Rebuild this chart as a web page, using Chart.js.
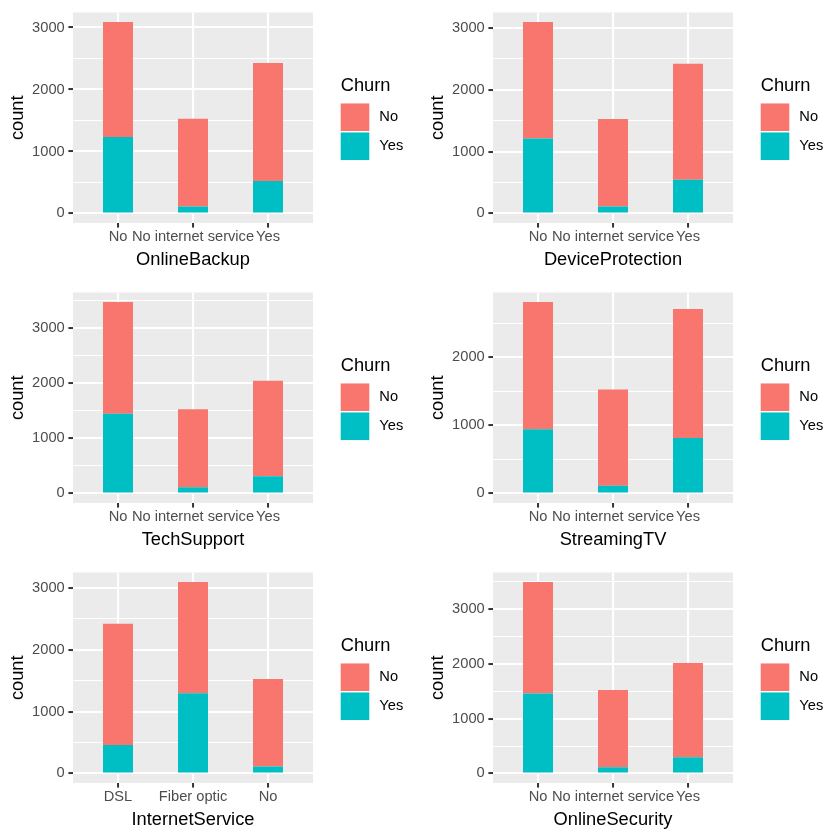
<!DOCTYPE html>
<html>
<head>
<meta charset="utf-8">
<script src="https://cdn.jsdelivr.net/npm/chart.js@4.4.1/dist/chart.umd.min.js"></script>
<style>
  html, body { margin: 0; padding: 0; background: #fff; }
  #grid { position: relative; width: 840px; height: 840px; }
  #grid canvas { position: absolute; }
</style>
</head>
<body>
<div id="grid"></div>
<script>
// category levels
var serviceLevels = ["No", "No internet service", "Yes"];
var internetLevels = ["DSL", "Fiber optic", "No"];

// counts per level, split by Churn (No / Yes)
var onlineBackupNo = [1855, 1413, 1906];
var onlineBackupYes = [1233, 113, 523];
var deviceProtectionNo = [1884, 1413, 1877];
var deviceProtectionYes = [1211, 113, 545];
var techSupportNo = [2027, 1413, 1734];
var techSupportYes = [1446, 113, 310];
var streamingTVNo = [1868, 1413, 1893];
var streamingTVYes = [942, 113, 814];
var internetServiceNo = [1962, 1799, 1413];
var internetServiceYes = [459, 1297, 113];
var onlineSecurityNo = [2037, 1413, 1724];
var onlineSecurityYes = [1461, 113, 295];

var panels = [
  {name: "OnlineBackup", levels: serviceLevels, no: onlineBackupNo, yes: onlineBackupYes},
  {name: "DeviceProtection", levels: serviceLevels, no: deviceProtectionNo, yes: deviceProtectionYes},
  {name: "TechSupport", levels: serviceLevels, no: techSupportNo, yes: techSupportYes},
  {name: "StreamingTV", levels: serviceLevels, no: streamingTVNo, yes: streamingTVYes},
  {name: "InternetService", levels: internetLevels, no: internetServiceNo, yes: internetServiceYes},
  {name: "OnlineSecurity", levels: serviceLevels, no: onlineSecurityNo, yes: onlineSecurityYes}
];

var FONT = '"Liberation Sans", Arial, Helvetica, sans-serif';
Chart.defaults.font.family = FONT;

// grey panel background
var panelBg = {
  id: 'panelBg',
  beforeDraw: function(chart) {
    var a = chart.chartArea, ctx = chart.ctx;
    ctx.save();
    ctx.fillStyle = '#EBEBEB';
    ctx.fillRect(a.left, a.top, a.right - a.left, a.bottom - a.top);
    ctx.restore();
  }
};

// ggplot style legend: title + square keys
var ggLegend = {
  id: 'ggLegend',
  afterDraw: function(chart, args, opts) {
    var a = chart.chartArea, ctx = chart.ctx;
    var cy = (a.top + a.bottom) / 2;
    var x0 = a.right + 27.7;
    ctx.save();
    ctx.textBaseline = 'middle';
    ctx.textAlign = 'left';
    ctx.fillStyle = '#000';
    ctx.font = '18.3px ' + FONT;
    ctx.fillText(opts.title, x0, cy - 31.6);
    var items = chart.data.datasets.slice().reverse();
    items.forEach(function(ds, i) {
      var ky = cy - 14.3 + i * 29;
      ctx.fillStyle = ds.backgroundColor;
      ctx.fillRect(x0, ky, 28.6, 27.6);
      ctx.fillStyle = '#000';
      ctx.font = '14.67px ' + FONT;
      ctx.fillText(ds.label, x0 + 38.6, ky + 13.8);
    });
    ctx.restore();
  }
};

function isMajor(ctx) {
  return ctx.tick && ctx.tick.value % 1000 === 0;
}

function makeChart(canvas, p) {
  var totals = p.no.map(function(v, i) { return v + p.yes[i]; });
  var top = Math.max.apply(null, totals);
  var lo = -0.05 * top, hi = 1.05 * top;

  return new Chart(canvas, {
    type: 'bar',
    data: {
      datasets: [
        {label: 'Yes', backgroundColor: '#00BFC4',
         data: p.yes.map(function(v, i) { return {x: i, y: v}; })},
        {label: 'No', backgroundColor: '#F8766D',
         data: p.no.map(function(v, i) { return {x: i, y: v}; })}
      ]
    },
    options: {
      responsive: false,
      animation: false,
      layout: {padding: {top: 9, right: 107, bottom: 0, left: 0}},
      datasets: {bar: {categoryPercentage: 1, barPercentage: 0.4, borderWidth: 0}},
      plugins: {
        legend: {display: false},
        tooltip: {enabled: false},
        ggLegend: {title: 'Churn'}
      },
      scales: {
        x: {
          type: 'linear',
          stacked: true,
          offset: false,
          min: -0.6,
          max: 2.6,
          afterBuildTicks: function(s) {
            s.ticks = p.levels.map(function(_, i) { return {value: i}; });
          },
          afterFit: function(s) { s.height = 57; },
          ticks: {
            autoSkip: false, maxRotation: 0, minRotation: 0, padding: 0.5,
            color: '#4D4D4D', font: {size: 14.67},
            callback: function(v) { return p.levels[v]; }
          },
          grid: {
            offset: false,
            color: '#FFFFFF', lineWidth: 2.1,
            tickColor: '#333333', tickLength: 4.6, tickWidth: 2
          },
          border: {display: false},
          title: {display: true, text: p.name, color: '#000',
                  font: {size: 18.3}, padding: {top: 0, bottom: 8.6}}
        },
        y: {
          stacked: true,
          min: lo,
          max: hi,
          afterBuildTicks: function(s) {
            var t = [];
            for (var v = 0; v <= hi; v += 500) t.push({value: v});
            s.ticks = t;
          },
          afterFit: function(s) { s.width = 73; },
          ticks: {
            padding: 3.7, color: '#4D4D4D', font: {size: 14.67},
            callback: function(v) { return v % 1000 === 0 ? String(v) : ''; }
          },
          grid: {
            color: '#FFFFFF',
            lineWidth: function(c) { return isMajor(c) ? 2.1 : 1.05; },
            tickColor: function(c) { return isMajor(c) ? '#333333' : 'rgba(0,0,0,0)'; },
            tickLength: 4.6, tickWidth: 2
          },
          border: {display: false},
          title: {display: true, text: 'count', color: '#000',
                  font: {size: 18.3}, padding: {top: 6.5, bottom: 0}}
        }
      }
    },
    plugins: [panelBg, ggLegend]
  });
}

var grid = document.getElementById('grid');
panels.forEach(function(p, i) {
  var c = document.createElement('canvas');
  c.width = 420;
  c.height = 280;
  c.style.left = (i % 2) * 420 + 'px';
  c.style.top = Math.floor(i / 2) * 280 + 'px';
  grid.appendChild(c);
  makeChart(c, p);
});
</script>
</body>
</html>
